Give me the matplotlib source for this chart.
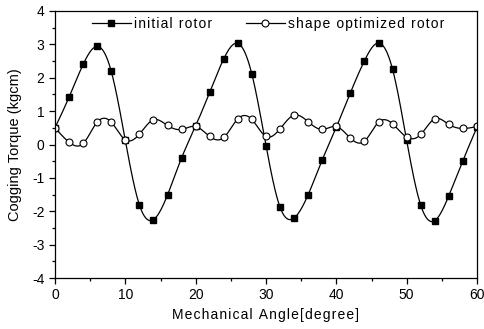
import numpy as np
import matplotlib
matplotlib.use("Agg")
from matplotlib import pyplot as plt
from matplotlib.ticker import MultipleLocator

angle = [0, 2, 4, 6, 8, 10, 12, 14, 16, 18, 20, 22, 24, 26, 28, 30,
         32, 34, 36, 38, 40, 42, 44, 46, 48, 50, 52, 54, 56, 58, 60]
initial_rotor = [0.50, 1.42, 2.40, 2.94, 2.19, 0.12, -1.81, -2.25, -1.51, -0.40, 0.56,
                 1.57, 2.57, 3.03, 2.10, -0.03, -1.88, -2.20, -1.50, -0.46, 0.52,
                 1.55, 2.51, 3.04, 2.25, 0.12, -1.82, -2.28, -1.53, -0.48, 0.52]
optimized_rotor = [0.50, 0.07, 0.03, 0.67, 0.67, 0.14, 0.31, 0.74, 0.57, 0.45, 0.54,
                   0.24, 0.21, 0.77, 0.75, 0.24, 0.47, 0.88, 0.68, 0.45, 0.54,
                   0.19, 0.10, 0.67, 0.62, 0.22, 0.30, 0.77, 0.60, 0.48, 0.54]
labels = ["initial rotor", "shape optimized rotor"]


def spline(x, y, n=600):
    # natural cubic spline through the points, only used for the drawn line
    x = np.asarray(x, float)
    y = np.asarray(y, float)
    h = np.diff(x)
    m = len(x)
    A = np.zeros((m, m))
    r = np.zeros(m)
    A[0, 0] = A[-1, -1] = 1
    for i in range(1, m - 1):
        A[i, i - 1] = h[i - 1]
        A[i, i] = 2 * (h[i - 1] + h[i])
        A[i, i + 1] = h[i]
        r[i] = 6 * ((y[i + 1] - y[i]) / h[i] - (y[i] - y[i - 1]) / h[i - 1])
    M = np.linalg.solve(A, r)
    xs = np.linspace(x[0], x[-1], n)
    k = np.clip(np.searchsorted(x, xs) - 1, 0, m - 2)
    t0 = xs - x[k]
    t1 = x[k + 1] - xs
    hk = h[k]
    ys = (M[k] * t1 ** 3 + M[k + 1] * t0 ** 3) / (6 * hk) \
        + (y[k] / hk - M[k] * hk / 6) * t1 + (y[k + 1] / hk - M[k + 1] * hk / 6) * t0
    return xs, ys


def spaced(s):
    # Origin-style wide letter spacing
    return "\u200a".join(s)


plt.rcParams["font.family"] = ["Liberation Sans", "DejaVu Sans"]
plt.rcParams["axes.unicode_minus"] = False

fig = plt.figure(figsize=(4.84, 3.29), dpi=100)
ax = fig.add_axes([55 / 484, 1 - 278 / 329, 422 / 484, 267 / 329])

xs, ys = spline(angle, initial_rotor)
ax.plot(xs, ys, color="black", lw=0.9)
ax.plot(angle, initial_rotor, "s", color="black", ms=4.5)
xs, ys = spline(angle, optimized_rotor)
ax.plot(xs, ys, color="black", lw=0.9)
ax.plot(angle, optimized_rotor, "o", mfc="white", mec="black", mew=0.8, ms=5)

# legend entries with line through marker
h1 = plt.Line2D([], [], color="black", lw=0.9, marker="s", ms=4.5)
h2 = plt.Line2D([], [], color="black", lw=0.9, marker="o", mfc="white", mew=0.8, ms=5)
ax.legend([h1, h2], [spaced(l) for l in labels], loc="upper center", ncol=2, frameon=False,
          fontsize=10, handlelength=2.8, handletextpad=0.25, columnspacing=2.4,
          borderaxespad=0.0, bbox_to_anchor=(0.505, 1.0))

ax.set_xlim(0, 60)
ax.set_ylim(-4, 4)
ax.xaxis.set_major_locator(MultipleLocator(10))
ax.xaxis.set_minor_locator(MultipleLocator(5))
ax.yaxis.set_major_locator(MultipleLocator(1))
ax.yaxis.set_minor_locator(MultipleLocator(0.5))
ax.tick_params(which="both", direction="out", top=False, right=False, labelsize=10, width=0.9)
ax.tick_params(which="major", length=4.5, pad=3)
ax.tick_params(which="minor", length=2.5)
for s in ax.spines.values():
    s.set_linewidth(0.9)

ax.set_xlabel(spaced("Mechanical Angle[degree]"), fontsize=10, labelpad=4)
ax.set_ylabel("Cogging Torque (kgcm)", fontsize=10.5, labelpad=7)

fig.savefig("out.png", dpi=100)
